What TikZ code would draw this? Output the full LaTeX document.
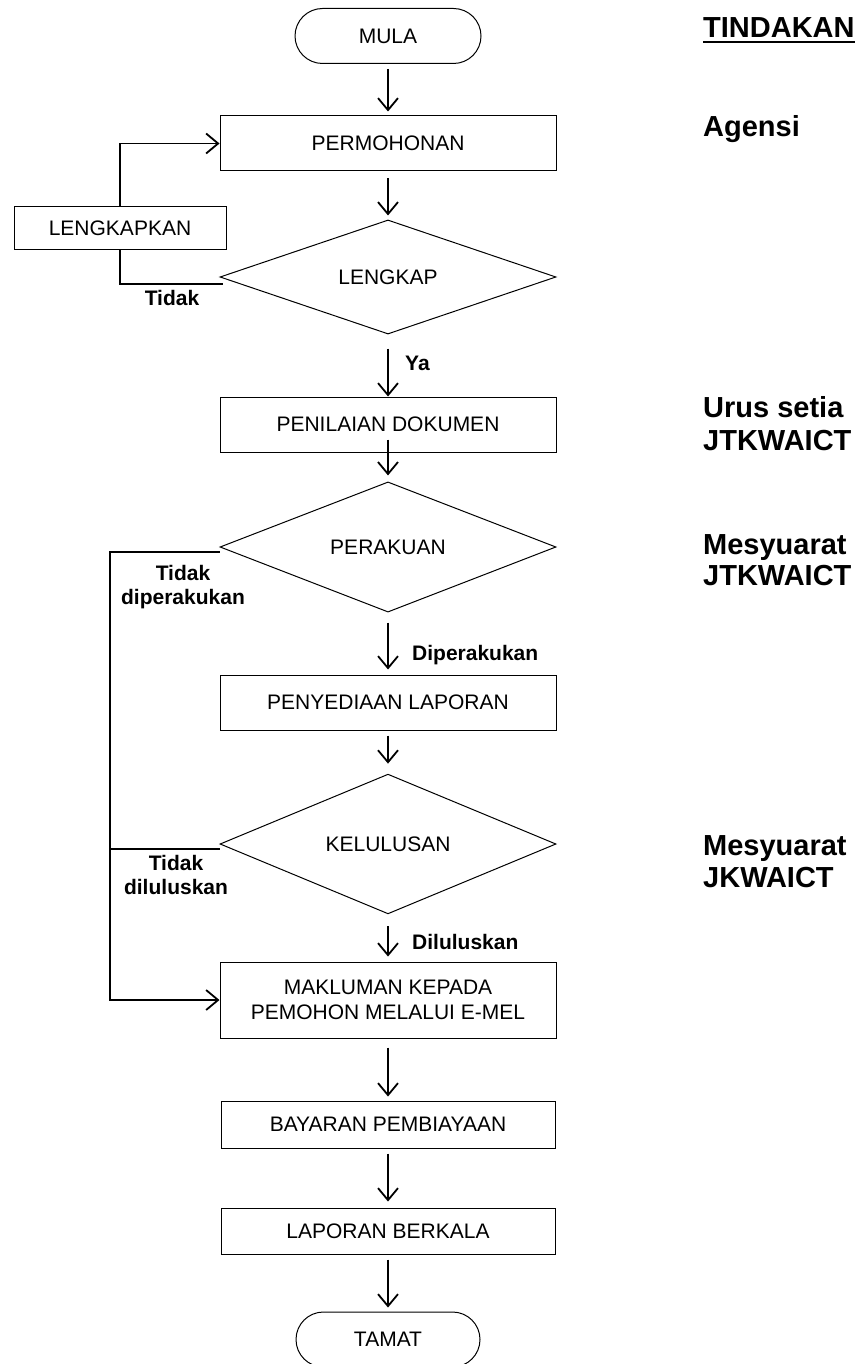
\documentclass[tikz,border=0pt]{standalone}
\usepackage{fontspec}
\setmainfont{Liberation Sans}
\usetikzlibrary{shapes.geometric,shapes.misc,arrows.meta,calc}
\begin{document}
\begin{tikzpicture}[x=1pt,y=-1pt,
  box/.style={draw, line width=1pt, rectangle, minimum width=336pt, inner sep=0pt, align=center, font=\fontsize{21}{25}\selectfont},
  term/.style={draw, line width=1pt, rounded rectangle, minimum width=186pt, minimum height=55pt, inner sep=0pt, font=\fontsize{21}{25}\selectfont},
  decision/.style={draw, line width=1pt, diamond, minimum width=336pt, minimum height=102pt, inner sep=0pt, font=\fontsize{21}{25}\selectfont},
  flow/.style={line width=1.8pt, -{Straight Barb[length=12pt,width=20pt,line width=1.8pt]}},
  link/.style={line width=1.8pt},
  lbl/.style={font=\bfseries\fontsize{21}{24}\selectfont, inner sep=0pt, align=center},
  role/.style={font=\bfseries\fontsize{29}{32}\selectfont, inner sep=0pt, anchor=base west},
]
\useasboundingbox (0,0) rectangle (860,1364);

% main column
\node[term] (mula) at (388,36) {MULA};
\node[box, minimum height=55pt] (permohonan) at (388,143.5) {PERMOHONAN};
\node[box, minimum width=212pt, minimum height=43pt] (lengkapkan) at (120,228.5) {LENGKAPKAN};
\node[decision] (lengkap) at (388,277) {LENGKAP};
\node[box, minimum height=55pt] (penilaian) at (388,424.5) {PENILAIAN DOKUMEN};
\node[decision] (perakuan) at (388,547) {PERAKUAN};
\node[box, minimum height=55pt] (penyediaan) at (388,702.5) {PENYEDIAAN LAPORAN};
\node[decision] (kelulusan) at (388,844) {KELULUSAN};
\node[box, minimum height=76pt] (makluman) at (388,1000) {MAKLUMAN KEPADA\\PEMOHON MELALUI E-MEL};
\node[box, minimum width=334pt, minimum height=47pt] (bayaran) at (388,1124.5) {BAYARAN PEMBIAYAAN};
\node[box, minimum width=334pt, minimum height=46pt] (laporan) at (388,1231) {LAPORAN BERKALA};
\node[term, minimum width=184pt] (tamat) at (388,1339.5) {TAMAT};

% vertical arrows
\draw[flow, shorten <=5pt, shorten >=4pt] (mula.south) -- (permohonan.north);
\draw[flow, shorten <=7pt, shorten >=4pt] (permohonan.south) -- (lengkap.north);
\draw[flow, shorten <=14pt, shorten >=0pt] (lengkap.south) -- (penilaian.north);
\draw[flow, shorten <=-13pt, shorten >=6pt] (penilaian.south) -- (perakuan.north);
\draw[flow, shorten <=10pt, shorten >=5pt] (perakuan.south) -- (penyediaan.north);
\draw[flow, shorten <=5pt, shorten >=10pt] (penyediaan.south) -- (kelulusan.north);
\draw[flow, shorten <=12pt, shorten >=5pt] (kelulusan.south) -- (makluman.north);
\draw[flow, shorten <=9pt, shorten >=4pt] (makluman.south) -- (bayaran.north);
\draw[flow, shorten <=5pt, shorten >=6pt] (bayaran.south) -- (laporan.north);
\draw[flow, shorten <=5pt, shorten >=4pt] (laporan.south) -- (tamat.north);

% loop back to PERMOHONAN
\draw[flow] (lengkapkan.north) |- (permohonan.west);
\coordinate (tk) at ($(lengkap.west)+(3,7)$);
\draw[link] (tk) -| (lengkapkan.south);

% left return line
\coordinate (lc) at (110,1000);
\coordinate (pw) at ($(perakuan.west)+(0,5)$);
\coordinate (kw) at ($(kelulusan.west)+(0,5)$);
\draw[flow] (pw) -| (lc) -- (makluman.west);
\draw[link] (kw) -- (kw -| lc);

% labels
\node[lbl] (tidak1) at (172,298) {Tidak};
\node[lbl] (tidak2) at (183,587) {Tidak\\diperakukan};
\node[lbl] (tidak3) at (176,875) {Tidak\\diluluskan};
\node[lbl, anchor=west] (ya) at (405,363) {Ya};
\node[lbl, anchor=west] (dip) at (412,655) {Diperakukan};
\node[lbl, anchor=west] (dil) at (412,942) {Diluluskan};

% right column
\node[role] (tindakan) at (703,38) {TINDAKAN};
\coordinate (ul1) at ($(tindakan.base west)+(0,4)$);
\coordinate (ul2) at ($(tindakan.base east)+(0,4)$);
\draw[line width=2.5pt] (ul1) -- (ul2);
\node[role] (agensi) at (703,137) {Agensi};
\node[role] (urus) at (703,417) {Urus setia};
\node[role] (jtk1) at (703,450) {JTKWAICT};
\node[role] (mes1) at (703,554) {Mesyuarat};
\node[role] (jtk2) at (703,585) {JTKWAICT};
\node[role] (mes2) at (703,855) {Mesyuarat};
\node[role] (jkw) at (703,887) {JKWAICT};
\end{tikzpicture}
\end{document}
